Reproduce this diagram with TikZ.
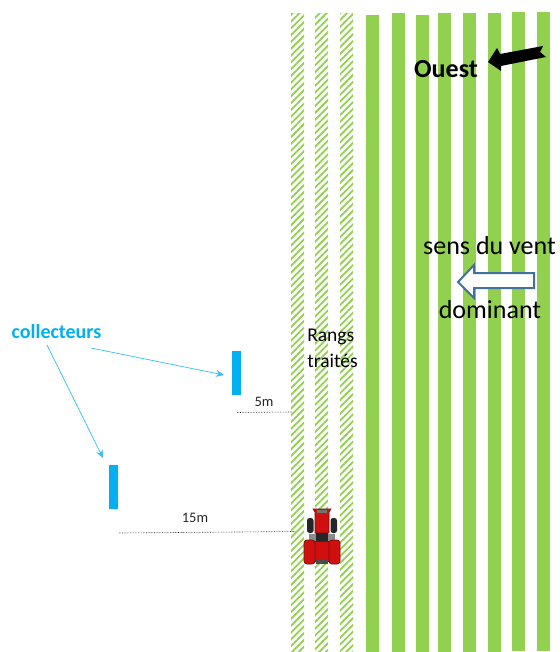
\documentclass[tikz,border=0pt]{standalone}
\usepackage{xcolor}
\usepackage{fontspec}
\setmainfont{Carlito}
\usetikzlibrary{patterns.meta,arrows.meta}
\definecolor{rowgreen}{HTML}{92D050}
\definecolor{collblue}{HTML}{00B0F0}
\definecolor{windblue}{HTML}{41719C}
\definecolor{tracred}{HTML}{D01010}
\definecolor{tracdark}{HTML}{7A0C0C}
\tikzset{
  collector/.style={fill=collblue,minimum width=9pt,minimum height=44pt,inner sep=0pt},
  callout/.style={collblue!80,line width=0.7pt,-{Stealth[length=8pt,width=7pt]}},
  distline/.style={black!90,line width=0.6pt,densely dotted},
  dist/.style={font=\fontsize{14.5}{16}\selectfont,text=black!85,inner sep=0pt},
  bigtext/.style={font=\fontsize{26}{30}\selectfont,inner sep=0pt}
}
\begin{document}
\begin{tikzpicture}[x=1pt,y=-1pt]
  \useasboundingbox (0,0) rectangle (559,652);
  % rows
  \foreach \xrow/\ytop in {366/15,392/13,416/15,438/13,463/13,488/13,512/12,537/12}
    \fill[rowgreen] (\xrow,\ytop) rectangle ++(12.5,639);
  \foreach \xrow in {291,315,340}
    \fill[pattern={Lines[angle=45,distance=4.8pt,line width=1.8pt]},pattern color=rowgreen] (\xrow,14) rectangle ++(13,638);
  % texts
  \node[bigtext] (vent) at (489.5,246) {sens du vent};
  \node[bigtext] (dominant) at (490,310) {dominant};
  \node[font=\fontsize{26}{30}\selectfont\bfseries,inner sep=0pt] (ouest) at (446,69) {Ouest};
  \node[font=\fontsize{19.5}{26}\selectfont,align=left,inner sep=0pt] (rangs) at (332.5,348) {Rangs\\traités};
  \node[font=\fontsize{20}{24}\selectfont\bfseries,text=collblue,inner sep=0pt] (collecteurs) at (56.5,332) {collecteurs};
  % west arrow
  \fill[black] (488,62) -- (497,48) -- (500,54) -- (543,46) -- (540,52) -- (546,57) -- (501,66) -- (501,71) -- cycle;
  % wind arrow
  \draw[windblue,fill=white,line width=2pt] (458,282) -- (474,265) -- (474,273) -- (534,273) -- (534,288) -- (474,288) -- (474,298) -- cycle;
  % collectors
  \node[collector] (coll5) at (236.5,373) {};
  \node[collector] (coll15) at (113.5,487) {};
  \coordinate (end5) at (224,375);
  \coordinate (end15) at (103,458);
  \coordinate (start5) at (91,348);
  \coordinate (start15) at (47,345);
  \draw[callout] (start5) -- (end5);
  \draw[callout] (start15) -- (end15);
  % distances
  \coordinate (a5) at (237,412.5);
  \coordinate (b5) at (292,412);
  \coordinate (a15) at (119,533);
  \coordinate (b15) at (295,531.5);
  \draw[distline] (a5) -- (b5);
  \draw[distline] (a15) -- (b15);
  \node[dist] (lab5) at (264,402) {5m};
  \node[dist] (lab15) at (195,518) {15m};
  % tractor
  \fill[black!85,rounded corners=2.5pt] (307,518) rectangle (313.5,533);
  \fill[black!85,rounded corners=2.5pt] (330.5,518) rectangle (337,533);
  \fill[black!45] (309,534) rectangle (335,541);
  \fill[tracred,draw=tracdark,line width=0.6pt] (313,509) -- (331,509) -- (329,512) -- (329,533) -- (315,533) -- (315,512) -- cycle;
  \fill[black!55] (317,509.5) rectangle (327,513);
  \fill[black!85] (316,533) rectangle (328,541);
  \fill[tracred,draw=tracdark,line width=0.6pt] (314,541) rectangle (330,561);
  \fill[tracred,draw=tracdark,line width=0.8pt,rounded corners=3pt] (304,540) rectangle (315,564);
  \fill[tracred,draw=tracdark,line width=0.8pt,rounded corners=3pt] (329,540) rectangle (340,564);
  \fill[black!70] (316,560) rectangle (328,564);
\end{tikzpicture}
\end{document}
